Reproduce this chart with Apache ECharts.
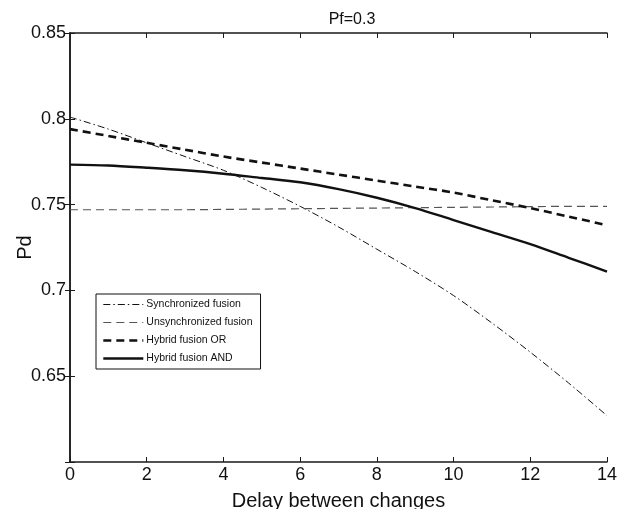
<!DOCTYPE html>
<html><head><meta charset="utf-8">
<script src="https://cdn.jsdelivr.net/npm/echarts@6/dist/echarts.min.js"></script>
<style>html,body{margin:0;padding:0;background:#fff}#c{width:627px;height:509px}</style>
</head><body><div id="c"></div>
<script>
const delays = [0,1,2,3,4,5,6,7,8,9,10,11,12,13,14];
const syncFusion = [0.801,0.794,0.786,0.778,0.770,0.760,0.749,0.737,0.724,0.711,0.697,0.681,0.664,0.646,0.627];
const unsyncFusion = [0.747,0.747,0.747,0.747,0.7472,0.7474,0.7476,0.7478,0.748,0.7482,0.7484,0.7486,0.7488,0.749,0.749];
const hybridOR = [0.794,0.790,0.786,0.782,0.778,0.7745,0.771,0.7675,0.764,0.7605,0.757,0.7525,0.748,0.743,0.738];
const hybridAND = [0.7733,0.7728,0.7715,0.770,0.768,0.7655,0.763,0.759,0.754,0.748,0.741,0.734,0.727,0.719,0.711];
const seriesNames = ['Synchronized fusion','Unsynchronized fusion','Hybrid fusion OR','Hybrid fusion AND'];
const xTicks = [0,2,4,6,8,10,12,14];
const yTicks = [0.6,0.65,0.7,0.75,0.8,0.85];

const pair = arr => delays.map((d,i)=>[d,arr[i]]);
const font = 'Liberation Sans, Arial, sans-serif';
const axisCol = '#1a1a1a';
const styles = [
  {color:'#111',width:1,type:[7,3,1.5,3]},
  {color:'#555',width:1.2,type:[8,5]},
  {color:'#111',width:2.6,type:[8,5]},
  {color:'#111',width:2.4,type:'solid'}
];
const chart = echarts.init(document.getElementById('c'));
chart.setOption({
  animation:false,
  title:{text:'Pf=0.3',left:347,top:7,textAlign:'center',
    textStyle:{fontFamily:font,fontSize:16,fontWeight:'normal',color:'#111'}},
  grid:{left:70,right:20,top:33,bottom:47,containLabel:false,outerBoundsMode:'none'},
  legend:{
    orient:'vertical',left:96,top:294,itemWidth:40,itemHeight:10,itemGap:7,
    borderColor:'#111',borderWidth:1,padding:[5,8,5,6],backgroundColor:'#fff',
    textStyle:{fontFamily:font,fontSize:10.5,color:'#111',padding:[0,0,0,-2]},
    data:seriesNames.map((n,i)=>({name:n,itemStyle:{opacity:0,borderWidth:0},lineStyle:styles[i]}))
  },
  xAxis:[{
    type:'value',min:0,max:14,interval:2,
    name:'Delay between changes',nameLocation:'middle',nameGap:29,nameMoveOverlap:false,
    nameTextStyle:{fontFamily:font,fontSize:20,color:'#111'},
    axisLine:{lineStyle:{color:axisCol,width:1.5}},
    axisTick:{inside:true,length:5,lineStyle:{color:axisCol}},
    axisLabel:{fontFamily:font,fontSize:18,color:'#111',margin:4},
    splitLine:{show:false}
  },{
    type:'value',min:0,max:14,interval:2,position:'top',
    axisLine:{lineStyle:{color:axisCol,width:1.5}},
    axisTick:{inside:true,length:5,lineStyle:{color:axisCol}},
    axisLabel:{show:false},splitLine:{show:false}
  }],
  yAxis:[{
    type:'value',min:0.6,max:0.85,interval:0.05,
    name:'Pd',nameLocation:'middle',nameGap:35,nameMoveOverlap:false,
    nameTextStyle:{fontFamily:font,fontSize:20,color:'#111'},
    axisLine:{show:true,lineStyle:{color:axisCol,width:1.5}},
    axisTick:{show:true,inside:true,length:5,lineStyle:{color:axisCol}},
    axisLabel:{fontFamily:font,fontSize:18,color:'#111',margin:4,
      formatter:v=> v<0.61 ? '' : String(+v.toFixed(2))},
    splitLine:{show:false}
  },{
    type:'value',min:0.6,max:0.85,interval:0.05,position:'right',
    axisLine:{show:true,lineStyle:{color:axisCol,width:1.5}},
    axisTick:{show:true,inside:true,length:5,lineStyle:{color:axisCol}},
    axisLabel:{show:false},splitLine:{show:false}
  }],
  series:[
    {name:seriesNames[0],type:'line',data:pair(syncFusion),smooth:0.3,symbol:'none',
      lineStyle:styles[0],itemStyle:{color:'#111'}},
    {name:seriesNames[1],type:'line',data:pair(unsyncFusion),smooth:0.3,symbol:'none',
      lineStyle:styles[1],itemStyle:{color:'#555'}},
    {name:seriesNames[2],type:'line',data:pair(hybridOR),smooth:0.3,symbol:'none',
      lineStyle:styles[2],itemStyle:{color:'#111'}},
    {name:seriesNames[3],type:'line',data:pair(hybridAND),smooth:0.3,symbol:'none',
      lineStyle:styles[3],itemStyle:{color:'#111'}}
  ]
});
</script></body></html>
